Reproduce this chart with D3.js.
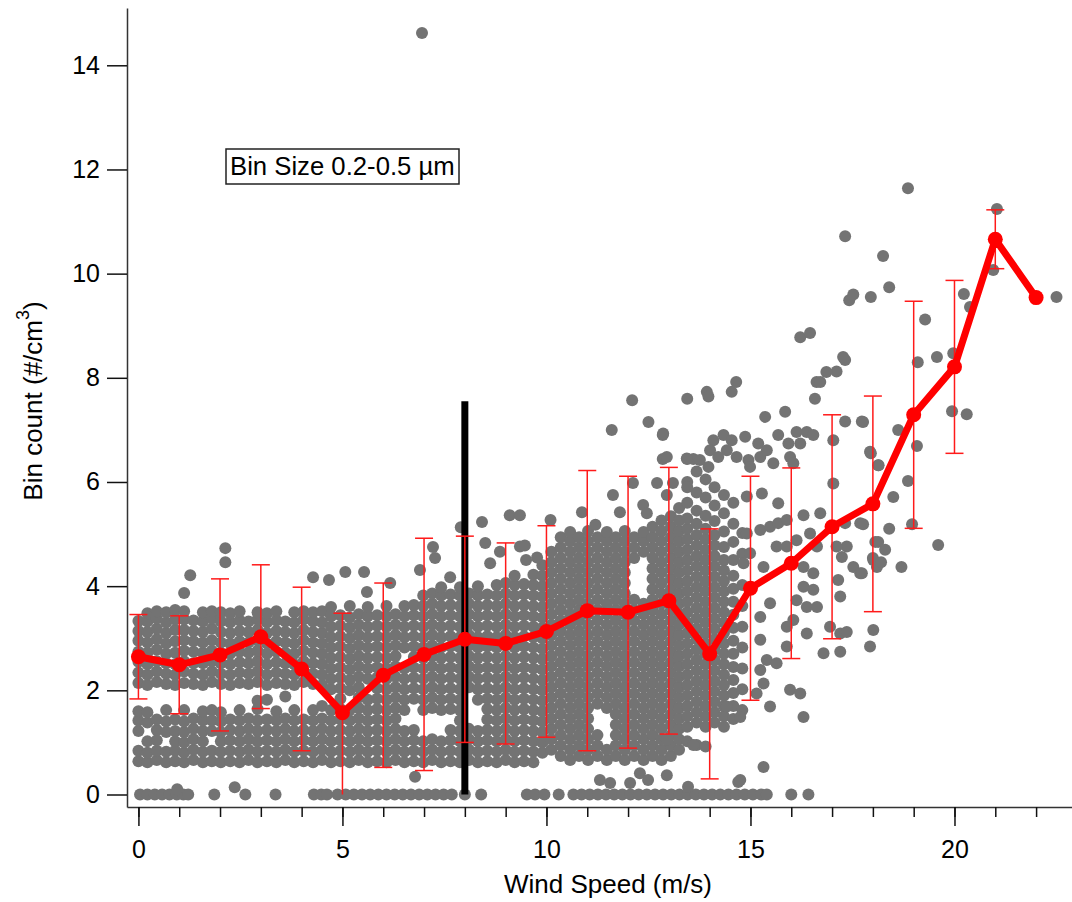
<!DOCTYPE html>
<html><head><meta charset="utf-8">
<script src="https://cdn.jsdelivr.net/npm/d3@7"></script>
<style>body{margin:0;background:#fff}svg{display:block}text{font-family:"Liberation Sans",Arial,sans-serif;fill:#000}</style>
</head><body><svg id="c" width="1072" height="902"></svg>
<script>
// ---- Binned means (red) ----
const binWind = [0,1,2,3,4,5,6,7,8,9,10,11,12,13,14,15,16,17,18,19,20,21,22];
const binMean = [2.645,2.49,2.68,3.03,2.41,1.57,2.29,2.69,2.98,2.9,3.13,3.53,3.5,3.72,2.7,3.96,4.44,5.14,5.58,7.29,8.21,10.66,9.54];
const binSD   = [0.81,0.94,1.46,1.38,1.57,1.91,1.77,2.23,1.98,1.93,2.03,2.69,2.61,2.56,2.4,2.15,1.83,2.15,2.07,2.18,1.66,0.565,0];
// ---- Vertical marker ----
const markerWind = 8, markerTop = 7.55;
// ---- Axis ticks ----
const yTicks = [0,2,4,6,8,10,12,14];
const xMajor = [0,5,10,15,20];
const xMinor = [0,1,2,3,4,5,6,7,8,9,10,11,12,13,14,15,16,17,18,19,20,21,22];
// ---- Scatter: samples with zero count (wind speed only) ----
const zeroCountWind = [0.04,0.22,0.4,0.58,0.76,0.94,1.1,1.22,1.86,2.62,3.36,4.3,4.48,4.62,4.88,5.08,5.28,5.48,5.68,5.88,6.08,6.28,6.48,6.68,6.88,7.08,7.28,7.48,7.68,8.0,8.4,9.52,9.72,9.95,10.3,10.66,10.86,11.06,11.26,11.46,11.66,11.86,12.06,12.26,12.46,12.66,12.86,13.06,13.26,13.46,13.66,13.86,14.06,14.26,14.46,14.66,14.86,15.06,15.26,15.4,16.0,16.42];
// ---- Scatter: dense columns [wind, count, count, ...] ----
const scatterColumns = [
[0.0,0.64,0.84,1.22,1.42,1.6,2.14,2.34,2.55,2.74,2.95,3.14,3.33],
[0.22,0.62,0.8,1.02,1.38,1.58,2.1,2.3,2.5,2.72,2.92,3.12,3.32,3.48],
[0.45,0.66,0.84,1.04,1.24,1.44,2.16,2.36,2.56,2.78,2.98,3.18,3.38,3.52],
[0.68,0.62,0.82,1.2,1.4,1.62,2.12,2.32,2.52,2.7,2.9,3.1,3.3,3.5],
[0.9,0.64,0.84,1.02,1.22,1.44,2.1,2.3,2.5,2.72,2.94,3.16,3.36,3.54],
[1.12,0.62,0.8,1.0,1.2,1.4,1.62,2.14,2.36,2.56,2.76,2.96,3.16,3.36,3.52,3.87],
[1.35,0.66,0.86,1.06,1.26,1.46,2.12,2.32,2.52,2.74,2.94,3.14,3.34],
[1.58,0.62,0.82,1.02,1.22,1.42,1.6,2.1,2.3,2.52,2.72,2.92,3.12,3.32,3.5],
[1.8,0.64,0.84,1.22,1.42,1.62,2.16,2.36,2.56,2.76,2.96,3.18,3.38,3.52],
[2.02,0.62,0.82,1.02,1.2,1.4,1.58,2.12,2.32,2.52,2.72,2.92,3.12,3.32,3.5],
[2.25,0.64,0.84,1.04,1.24,1.44,2.1,2.3,2.5,2.7,2.9,3.1,3.3,3.48],
[2.48,0.62,0.82,1.02,1.22,1.42,1.62,2.14,2.34,2.54,2.74,2.94,3.14,3.34,3.52],
[2.7,0.66,0.86,1.06,1.26,1.46,2.12,2.32,2.52,2.72,2.92,3.12,3.32],
[2.92,0.62,0.82,1.02,1.22,1.42,1.64,1.8,2.16,2.36,2.56,2.76,2.96,3.16,3.36,3.5],
[3.15,0.64,0.84,1.04,1.24,1.44,1.82,2.1,2.3,2.5,2.7,2.9,3.1,3.3,3.48],
[3.38,0.62,0.82,1.02,1.22,1.42,1.6,2.14,2.34,2.54,2.74,2.94,3.14,3.34,3.52],
[3.6,0.66,0.86,1.06,1.26,1.46,1.88,2.12,2.32,2.52,2.72,2.92,3.12,3.32],
[3.82,0.62,0.82,1.02,1.22,1.42,1.62,2.1,2.3,2.5,2.7,2.9,3.1,3.3,3.5],
[4.05,0.64,0.84,1.04,1.24,1.44,2.16,2.36,2.56,2.76,2.96,3.16,3.36,3.52],
[4.28,0.62,0.82,1.02,1.22,1.42,1.62,2.12,2.32,2.52,2.72,2.92,3.12,3.32,3.5],
[4.5,0.66,0.86,1.06,1.26,1.46,1.7,2.1,2.3,2.5,2.7,2.9,3.1,3.3,3.52],
[4.72,0.62,0.82,1.02,1.22,1.42,1.62,2.02,2.22,2.42,2.62,2.82,3.02,3.22,3.42,3.6],
[4.95,0.64,0.84,1.04,1.24,1.44,1.64,1.84,2.04,2.24,2.44,2.64,2.84,3.04,3.24,3.44],
[5.18,0.62,0.82,1.02,1.22,1.42,1.62,2.0,2.2,2.4,2.6,2.8,3.0,3.2,3.4,3.62],
[5.4,0.66,0.86,1.06,1.26,1.46,1.66,1.86,2.06,2.26,2.46,2.66,2.86,3.06,3.26,3.46],
[5.62,0.62,0.82,1.02,1.22,1.42,1.62,1.82,2.22,2.42,2.62,2.82,3.02,3.22,3.42,3.6],
[5.85,0.64,0.84,1.04,1.24,1.44,1.64,1.84,2.04,2.24,2.44,2.64,2.84,3.04,3.24,3.44],
[6.08,0.62,0.82,1.02,1.22,1.42,1.62,1.82,2.02,2.22,2.42,2.62,2.82,3.02,3.22,3.42,3.62],
[6.3,0.66,0.86,1.06,1.26,1.46,1.66,1.86,2.06,2.26,2.46,2.66,2.86,3.06,3.26,3.46],
[6.52,0.62,0.82,1.02,1.22,1.62,1.82,2.02,2.22,2.42,2.82,3.02,3.22,3.42,3.62],
[6.75,0.64,0.84,1.04,1.24,1.84,2.04,2.24,2.44,2.64,2.84,3.04,3.24,3.44,3.64],
[6.98,0.62,0.82,1.02,1.62,1.82,2.02,2.22,2.42,2.62,2.82,3.02,3.22,3.42,3.62,3.82],
[7.2,0.66,0.86,1.06,1.66,1.86,2.06,2.26,2.46,2.66,2.86,3.06,3.26,3.46,3.66,3.86],
[7.42,0.62,0.82,1.02,1.62,1.82,2.02,2.22,2.42,2.62,2.82,3.02,3.22,3.42,3.62,3.82,3.98],
[7.65,0.64,0.84,1.04,1.24,1.64,1.84,2.04,2.24,2.44,2.64,2.84,3.04,3.24,3.44,3.64,3.84],
[7.88,0.62,0.82,1.02,1.22,1.42,1.62,1.82,2.02,2.22,2.42,2.62,2.82,3.02,3.22,3.42,3.62,3.82,3.98],
[8.1,0.66,0.86,1.06,1.26,2.06,2.26,2.46,2.66,2.86,3.06,3.26,3.46,3.66,3.86],
[8.32,0.62,0.82,1.02,1.22,1.82,2.02,2.22,2.42,2.62,2.82,3.02,3.22,3.42,3.62,3.82,4.0],
[8.55,0.64,0.84,1.04,1.24,1.44,1.64,1.84,2.04,2.24,2.44,2.64,2.84,3.04,3.24,3.44,3.64,3.84],
[8.78,0.62,0.82,1.02,1.22,1.42,1.62,1.82,2.02,2.22,2.42,2.62,2.82,3.02,3.22,3.42,3.62,3.82,4.02],
[9.0,0.66,0.86,1.06,1.26,1.46,1.66,1.86,2.06,2.26,2.46,2.66,2.86,3.06,3.26,3.46,3.66,3.86,4.06],
[9.22,0.62,0.82,1.02,1.22,1.42,1.62,1.82,2.02,2.22,2.42,2.62,2.82,3.02,3.22,3.42,3.62,3.82,4.02,4.2],
[9.45,0.64,0.84,1.04,1.24,1.44,1.64,1.84,2.04,2.24,2.44,2.64,2.84,3.04,3.24,3.44,3.64,3.84,4.04],
[9.68,0.62,0.82,1.02,1.22,1.42,1.62,1.82,2.02,2.22,2.42,2.62,2.82,3.02,3.22,3.42,3.62,3.82,4.02,4.22],
[9.9,0.8,1.0,1.2,1.4,1.6,1.8,2.0,2.2,2.4,2.6,2.8,3.0,3.2,3.4,3.6,3.8,4.0,4.2,4.4],
[10.12,0.86,1.06,1.26,1.46,1.66,1.86,2.06,2.26,2.46,2.66,2.86,3.06,3.26,3.46,3.66,3.86,4.06,4.26,4.46,4.66],
[10.35,0.74,0.94,1.14,1.34,1.54,1.74,1.94,2.14,2.34,2.54,2.74,2.94,3.14,3.34,3.54,3.74,3.94,4.14,4.34,4.54,4.74,4.94],
[10.58,0.66,0.86,1.06,1.26,1.46,1.66,1.86,2.06,2.26,2.46,2.66,2.86,3.06,3.26,3.46,3.66,3.86,4.06,4.26,4.46,4.66,4.86,5.04],
[10.8,0.74,0.94,1.14,1.34,1.54,1.74,1.94,2.14,2.34,2.54,2.74,2.94,3.14,3.34,3.54,3.74,3.94,4.14,4.34,4.54,4.74,4.94],
[11.02,0.66,0.86,1.06,1.26,1.46,1.66,1.86,2.06,2.26,2.46,2.66,2.86,3.06,3.26,3.46,3.66,3.86,4.06,4.26,4.46,4.66,4.86,5.06],
[11.25,0.74,0.94,1.14,1.74,1.94,2.14,2.34,2.54,2.74,2.94,3.14,3.34,3.54,3.74,3.94,4.14,4.34,4.54,4.74,4.94],
[11.48,0.66,0.86,1.66,1.86,2.06,2.26,2.46,2.66,2.86,3.06,3.26,3.46,3.66,3.86,4.06,4.26,4.46,4.66,4.86,5.04],
[11.7,0.74,0.94,1.14,1.34,1.54,1.74,1.94,2.14,2.34,2.54,2.74,2.94,3.14,3.34,3.54,3.74,3.94,4.14,4.34,4.54,4.74,4.94],
[11.92,0.66,0.86,1.06,1.26,1.46,1.66,1.86,2.06,2.26,2.46,2.66,2.86,3.06,3.26,3.46,3.66,3.86,4.06,4.26,4.46,4.66,4.86,5.06],
[12.15,0.74,0.94,1.14,1.34,1.54,1.74,1.94,2.14,2.34,2.54,2.74,2.94,3.14,3.34,3.54,3.74,4.54,4.74,4.94],
[12.38,0.66,0.86,1.06,1.26,1.46,1.66,1.86,2.06,2.26,2.46,2.66,2.86,3.06,3.26,3.46,3.66,4.66,4.86,5.04],
[12.6,0.74,0.94,1.14,1.34,1.54,1.74,1.94,2.14,2.34,2.54,2.74,2.94,3.14,3.34,3.54,3.74,3.94,4.14,4.34,4.54,4.74,4.94,5.14],
[12.82,0.66,0.86,1.06,1.26,1.46,1.66,1.86,2.06,2.26,2.46,2.66,2.86,3.06,3.26,3.46,3.66,3.86,4.06,4.26,4.46,4.66,4.86,5.06,5.26],
[13.05,0.74,0.94,1.14,1.34,1.54,1.74,1.94,2.14,2.34,2.54,2.74,2.94,3.14,3.34,3.54,3.74,3.94,4.14,4.34,4.54,4.74,4.94,5.14,5.34],
[13.25,0.86,1.06,1.26,1.46,1.66,1.86,2.06,2.26,2.46,2.66,2.86,3.06,3.26,3.46,3.66,3.86,4.06,4.26,4.46,4.66,4.86,5.06,5.26,5.5],
[13.45,1.02,1.3,1.5,1.7,1.9,2.1,2.3,2.5,2.7,2.9,3.1,3.3,3.5,3.7,3.9,4.1,4.3,4.5,4.7,4.9,5.1,5.3,5.6,6.0],
[13.68,0.95,1.38,1.58,1.78,1.98,2.18,2.38,2.58,2.78,2.98,3.18,3.38,3.58,3.78,3.98,4.18,4.38,4.58,4.78,4.98,5.2,5.45,5.8,6.2],
[13.9,0.92,1.3,1.5,1.7,1.9,2.1,2.3,2.5,2.7,2.9,3.1,3.3,3.5,3.7,3.9,4.1,4.3,4.5,4.7,4.9,5.1,5.35,5.7,6.05],
[14.12,1.38,1.58,1.78,1.98,2.18,2.38,2.58,2.78,2.98,3.18,3.38,3.58,3.78,3.98,4.18,4.38,4.58,4.78,4.98,5.25,5.55,5.9],
[14.35,1.3,1.5,1.7,1.9,2.1,2.3,2.5,2.7,2.9,3.1,3.3,3.5,3.7,3.9,4.1,4.3,4.5,4.75,5.05,5.4,5.75],
[14.58,1.45,1.7,1.95,2.2,2.45,2.7,2.95,3.2,3.45,3.7,3.95,4.2,4.5,4.85,5.2,5.6],
[14.8,1.62,2.02,2.42,2.82,3.22,3.62,4.02,4.62,5.02]
];
// ---- Scatter: scattered samples [wind, count] ----
const scatterPoints = [
[0.95,0.1],[2.36,0.14],[6.78,0.34],[11.31,0.28],[11.56,0.22],[12.05,0.22],[12.29,0.41],[12.49,0.28],[12.95,0.37],[13.47,0.15],[14.7,0.24],[15.32,0.53],
[1.27,4.21],[2.13,4.73],[2.13,4.46],[4.28,4.17],[4.67,4.12],[5.07,4.27],[5.53,4.27],[5.6,3.89],[6.17,4.06],[6.9,4.31],[7.22,4.75],[7.27,4.54],[7.64,4.17],
[7.9,5.13],[8.42,5.23],[8.5,4.83],[8.62,4.44],[8.86,4.66],[9.1,5.36],[9.35,5.36],[9.35,4.76],[9.5,4.5],[9.77,4.55],[9.47,4.78],[10.1,5.27],
[10.87,5.42],[11.2,5.18],[11.63,5.75],[11.8,5.42],[12.12,5.98],[12.37,5.56],[12.71,5.98],[12.46,5.4],[12.95,5.75],[13.1,5.98],[13.45,5.9],
[12.85,6.44],[13.45,6.44],[13.6,6.44],[11.6,7.0],[12.5,7.15],[12.85,6.9],[12.1,7.57],[13.45,7.6],[12.86,6.93],[12.95,6.48],[13.76,6.42],
[13.93,7.73],[13.97,7.64],[14.54,7.73],[14.65,7.92],[15.36,7.25],[15.85,7.35],[16.62,7.92],[16.58,7.6],[17.11,8.12],[17.32,8.34],
[14.09,6.8],[14.34,6.9],[14.54,6.8],[14.01,6.61],[14.21,6.48],[14.42,6.61],[14.66,6.48],[14.87,6.87],[14.95,6.42],[15.19,6.74],[15.24,6.48],[15.4,6.61],[15.56,6.36],[15.68,6.9],[15.93,6.74],[15.97,6.48],[16.13,6.96],[16.22,6.74],[16.05,6.36],[16.38,6.96],[16.54,6.9],[14.99,6.29],[13.97,6.29],[13.44,6.45],
[14.91,5.72],[15.28,5.78],[15.68,5.59],[14.91,5.01],[15.24,5.08],[15.48,5.14],[15.68,5.21],[15.89,5.27],[16.3,5.36],[16.71,5.4],[14.99,4.63],[14.83,4.44],[15.32,4.37],[15.64,4.76],[15.89,4.76],[16.13,4.88],[16.46,5.01],[16.63,4.76],[16.3,4.37],[16.54,4.25],[16.3,3.99],[16.54,3.93],[16.13,3.73],[16.38,3.6],[16.63,3.6],[16.05,3.35],[15.89,3.22],[16.38,3.09],[15.89,2.84],[15.24,3.41],[15.48,3.67],[15.24,2.97],[15.4,2.58],[15.64,2.52],[15.24,2.39],[15.15,1.94],[15.48,1.69],[15.97,2.01],[16.22,1.94],[16.3,1.49],[14.75,1.49],[14.42,1.69],[15.32,2.13],[14.75,0.28],[13.6,0.95],[12.95,1.05],
[17.03,6.8],[17.32,7.16],[17.73,7.16],[17.93,6.58],[18.13,6.32],[17.69,5.21],[17.32,5.21],[17.36,4.76],[17.11,4.76],[17.24,4.56],[17.52,4.37],[17.69,4.25],[17.15,4.12],[17.2,3.8],[18.13,4.85],[18.01,4.5],[18.1,4.37],[16.95,3.22],[17.2,3.09],[17.36,3.12],[18.01,3.16],[17.93,2.84],[16.79,2.71],[17.2,2.74],[17.03,5.97],
[16.22,8.78],[16.46,8.86],[16.86,8.11],[16.71,7.92],[17.27,8.4],[17.32,10.72],[17.42,9.49],[17.52,9.6],[17.95,9.55],
[18.86,11.64],[18.25,10.34],[20.23,9.61],[21.04,11.24],[18.4,9.74],[20.38,9.36],[19.28,9.12],[19.1,8.3],[19.57,8.4],[19.97,8.47],[19.94,7.36],[20.3,7.3],[19.08,6.69],[18.62,7.0],[17.76,7.15],[17.95,6.55],[18.14,6.32],[18.86,6.02],[18.5,5.71],[18.96,5.19],[17.76,5.19],[18.4,5.1],[18.06,4.85],[18.3,4.7],[18.0,4.54],[18.2,4.46],[19.6,4.79],[18.7,4.37],[20.95,10.07],[22.5,9.55],[17.73,4.25],
[6.95,14.62]
];
// ---- Text ----
const xTitle = "Wind Speed (m/s)";
const yTitleMain = "Bin count (#/cm", yTitleSup = "3", yTitleEnd = ")";
const note = "Bin Size 0.2-0.5 µm";

const svg = d3.select("#c");
const x = d3.scaleLinear().domain([-0.28, 22.88]).range([127, 1072]);
const y = d3.scaleLinear().domain([-0.24, 15.1]).range([807, 8]);
const FONT = "Liberation Sans, Arial, sans-serif";

const pts = scatterColumns.flatMap(c => c.slice(1).map(v => [c[0], v]))
  .concat(zeroCountWind.map(w => [w, 0]))
  .concat(scatterPoints);

svg.append("g").selectAll("circle").data(pts).join("circle")
  .attr("cx", d => x(d[0])).attr("cy", d => y(d[1])).attr("r", 6).attr("fill", "#737373");

// vertical black line
svg.append("line").attr("x1", x(markerWind)).attr("x2", x(markerWind))
  .attr("y1", y(0)).attr("y2", y(markerTop)).attr("stroke", "#000").attr("stroke-width", 7);

// error bars
const eb = svg.append("g").attr("stroke", "#ff1a1a").attr("stroke-width", 1.5);
binWind.forEach((w, i) => {
  const sd = binSD[i]; if (!sd) return;
  const hi = binMean[i] + sd, lo0 = binMean[i] - sd, lo = Math.max(lo0, 0);
  const cx = x(w);
  eb.append("line").attr("x1", cx).attr("x2", cx).attr("y1", y(hi)).attr("y2", y(lo));
  eb.append("line").attr("x1", cx - 9).attr("x2", cx + 9).attr("y1", y(hi)).attr("y2", y(hi));
  if (lo0 >= 0) eb.append("line").attr("x1", cx - 9).attr("x2", cx + 9).attr("y1", y(lo)).attr("y2", y(lo));
});

// red line + markers
const line = d3.line().x((d, i) => x(binWind[i])).y(d => y(d));
svg.append("path").datum(binMean).attr("d", line).attr("fill", "none")
  .attr("stroke", "#ff0000").attr("stroke-width", 7).attr("stroke-linejoin", "round");
svg.append("g").selectAll("circle").data(binMean).join("circle")
  .attr("cx", (d, i) => x(binWind[i])).attr("cy", d => y(d)).attr("r", 7.5).attr("fill", "#ff0000");

// axes
const ax = svg.append("g").attr("transform", "translate(127,0)")
  .call(d3.axisLeft(y).tickValues(yTicks).tickSize(20).tickSizeOuter(0).tickPadding(7));
ax.select(".domain").attr("stroke", "#333").attr("stroke-width", 1.5);
ax.selectAll(".tick line").attr("stroke", "#111").attr("stroke-width", 1.5);
ax.selectAll(".tick text").attr("font-size", 25).attr("font-family", FONT).attr("fill", "#000");

const bx = svg.append("g").attr("transform", "translate(0,807)")
  .call(d3.axisBottom(x).tickValues(xMinor).tickSize(10).tickSizeOuter(0).tickFormat(""));
bx.select(".domain").attr("stroke", "#333").attr("stroke-width", 1.5);
bx.selectAll(".tick line").attr("stroke", "#111").attr("stroke-width", 1.5);
const bx2 = svg.append("g").attr("transform", "translate(0,807)")
  .call(d3.axisBottom(x).tickValues(xMajor).tickSize(19).tickSizeOuter(0).tickPadding(14));
bx2.select(".domain").remove();
bx2.selectAll(".tick line").attr("stroke", "#111").attr("stroke-width", 1.5);
bx2.selectAll(".tick text").attr("font-size", 25).attr("font-family", FONT).attr("fill", "#000");

// titles
svg.append("text").attr("x", 608).attr("y", 893).attr("text-anchor", "middle")
  .attr("font-size", 26).text(xTitle);
const yt = svg.append("text").attr("transform", "translate(42,401) rotate(-90)")
  .attr("text-anchor", "middle").attr("font-size", 26);
yt.append("tspan").text(yTitleMain);
yt.append("tspan").attr("font-size", 18).attr("dy", -13).text(yTitleSup);
yt.append("tspan").attr("dy", 13).text(yTitleEnd);

// annotation
svg.append("rect").attr("x", 226).attr("y", 149).attr("width", 233).attr("height", 35)
  .attr("fill", "#fff").attr("stroke", "#222").attr("stroke-width", 1.5);
svg.append("text").attr("x", 230).attr("y", 175).attr("font-size", 25.7).text(note);
</script></body></html>
